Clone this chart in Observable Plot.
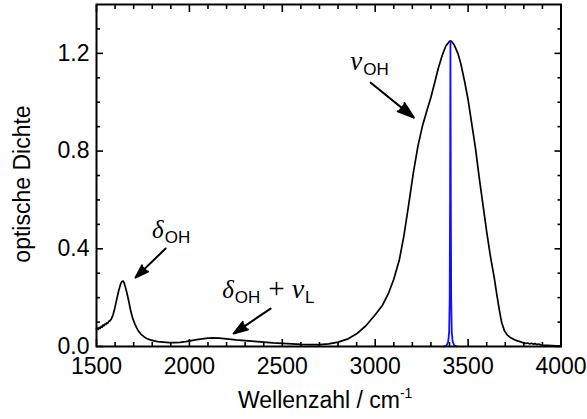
<!DOCTYPE html>
<html><head><meta charset="utf-8">
<script src="https://cdn.jsdelivr.net/npm/d3@7"></script>
<script src="https://cdn.jsdelivr.net/npm/@observablehq/plot@0.6"></script>
<style>body{margin:0;background:#fff} svg{display:block}</style>
</head><body><div id="chart"></div>
<script>
const wavenumber = [1500,1505,1510,1515,1520,1525,1530,1535,1540,1545,1550,1555,1560,1565,1570,1575,1580,1585,1590,1595,1600,1610,1620,1630,1637,1643,1648,1655,1665,1675,1685,1695,1705,1715,1725,1740,1755,1770,1790,1810,1830,1860,1890,1920,1950,1980,2010,2040,2070,2100,2130,2160,2200,2250,2300,2350,2400,2450,2500,2550,2600,2650,2700,2750,2800,2850,2900,2950,3000,3040,3070,3100,3130,3155,3180,3205,3230,3255,3280,3300,3320,3340,3360,3380,3400,3410,3425,3445,3460,3480,3500,3520,3540,3560,3580,3600,3620,3640,3655,3668,3680,3695,3710,3725,3740,3755,3770,3780,3790,3800,3810,3820,3830,3840,3850,3860,3870,3880,3890,3900,3925,3950,3975,4000];
const absorbance = [0.072,0.075,0.07,0.078,0.074,0.082,0.079,0.088,0.084,0.092,0.09,0.097,0.095,0.102,0.104,0.108,0.113,0.122,0.132,0.146,0.162,0.197,0.23,0.256,0.266,0.268,0.262,0.245,0.215,0.18,0.143,0.115,0.095,0.078,0.064,0.05,0.04,0.033,0.027,0.023,0.02,0.018,0.016,0.016,0.017,0.02,0.024,0.028,0.031,0.034,0.035,0.034,0.031,0.027,0.024,0.021,0.018,0.015,0.013,0.011,0.009,0.008,0.008,0.011,0.018,0.03,0.052,0.085,0.13,0.17,0.215,0.275,0.355,0.455,0.58,0.71,0.82,0.905,0.97,1.02,1.08,1.14,1.19,1.23,1.25,1.25,1.235,1.2,1.16,1.09,1.01,0.91,0.81,0.69,0.58,0.47,0.37,0.285,0.21,0.15,0.1,0.065,0.048,0.038,0.032,0.026,0.022,0.02,0.017,0.015,0.013,0.014,0.011,0.013,0.01,0.012,0.008,0.01,0.007,0.006,0.005,0.004,0.003,0.002];
const laserX = [3370,3385,3393,3398,3401,3403,3405,3407,3409,3412,3417,3425,3440];
const laserY = [0,0.005,0.02,0.06,0.2,0.6,1.25,0.6,0.2,0.06,0.02,0.005,0];
const xMajor = [1500,2000,2500,3000,3500,4000];
const xMinor = [1600,1700,1800,1900,2100,2200,2300,2400,2600,2700,2800,2900,3100,3200,3300,3400,3600,3700,3800,3900];
const yMajor = [0,0.4,0.8,1.2];
const yMinor = [0.1,0.2,0.3,0.5,0.6,0.7,0.9,1.0,1.1,1.3];

const spectrum = wavenumber.map((w,i)=>({w, a: absorbance[i]}));
const laser = laserX.map((w,i)=>({w, a: laserY[i]}));

const arrows = [
  {x1:1872, y1:0.401, x2:1710, y2:0.282},
  {x1:2437, y1:0.155, x2:2238, y2:0.053},
  {x1:2976, y1:1.080, x2:3208, y2:0.937}
];

const F = "Liberation Sans, Arial, sans-serif";
const FS = 23;
const tick = {stroke:"black", strokeWidth:1.6, text:null, label:null};
const plot = Plot.plot({
  width:587, height:419,
  marginLeft:96, marginRight:26.5, marginTop:4, marginBottom:73,
  style:{fontFamily:F, background:"white"},
  x:{domain:[1500,4000]},
  y:{domain:[0,1.4]},
  marks:[
    Plot.line(spectrum,{x:"w",y:"a",stroke:"black",strokeWidth:1.7}),
    Plot.line(laser,{x:"w",y:"a",stroke:"#1010ff",strokeWidth:1.8}),
    Plot.axisX({anchor:"bottom",ticks:xMajor,tickSize:-7,...tick}),
    Plot.axisX({anchor:"bottom",ticks:xMinor,tickSize:-4,...tick}),
    Plot.axisX({anchor:"top",ticks:xMajor,tickSize:-7,...tick}),
    Plot.axisX({anchor:"top",ticks:xMinor,tickSize:-4,...tick}),
    Plot.axisY({anchor:"left",ticks:yMajor,tickSize:-7,...tick}),
    Plot.axisY({anchor:"left",ticks:yMinor,tickSize:-4,...tick}),
    Plot.axisY({anchor:"right",ticks:yMajor,tickSize:-7,...tick}),
    Plot.axisY({anchor:"right",ticks:yMinor,tickSize:-4,...tick}),
    Plot.axisX({anchor:"bottom",ticks:xMajor,tickSize:0,tickPadding:11,tickFormat:d=>String(d),fontSize:FS,fill:"black",label:null}),
    Plot.axisY({anchor:"left",ticks:yMajor,tickSize:0,tickPadding:7,tickFormat:d3.format(".1f"),fontSize:FS,fill:"black",label:null}),
    Plot.arrow(arrows,{x1:"x1",y1:"y1",x2:"x2",y2:"y2",stroke:"black",fill:"black",strokeWidth:2,headLength:13,headAngle:36}),
    Plot.frame({stroke:"black",strokeWidth:2})
  ]
});
document.getElementById("chart").appendChild(plot);

const sx = plot.scale("x"), sy = plot.scale("y");
const svg = d3.select(plot);
const SERIF = "Liberation Serif, Times New Roman, serif";
function label(x, y, parts){
  const t = svg.append("text").attr("x", sx.apply(x)).attr("y", sy.apply(y))
    .attr("fill","black").attr("text-anchor","start");
  parts.forEach(p=>{
    t.append("tspan").attr("font-family",p.f).attr("font-style",p.i?"italic":"normal")
     .attr("font-size",p.s).attr("dy",p.dy||0).attr("dx",p.dx||0).text(p.t);
  });
}
label(1802, 0.442, [{t:"δ",f:SERIF,i:true,s:25},{t:"OH",f:F,s:17,dy:5,dx:1}]);
label(2179, 0.196, [{t:"δ",f:SERIF,i:true,s:25},{t:"OH",f:F,s:17,dy:5,dx:1},{t:"+",f:SERIF,s:29,dy:-5,dx:8},{t:"ν",f:SERIF,i:true,s:28,dx:7},{t:"L",f:F,s:17,dy:5,dx:1}]);
label(2869, 1.129, [{t:"ν",f:SERIF,i:true,s:27},{t:"OH",f:F,s:17,dy:5,dx:1}]);

// axis titles
svg.append("text").attr("x", 238).attr("y", 408).attr("text-anchor","start")
  .attr("font-family",F).attr("font-size",FS).attr("fill","black")
  .call(t=>{t.append("tspan").text("Wellenzahl / cm"); t.append("tspan").attr("font-size",14).attr("dy",-10).text("-1");});
svg.append("text").attr("transform","translate(30,184) rotate(-90)").attr("text-anchor","middle")
  .attr("font-family",F).attr("font-size",FS).attr("fill","black").text("optische Dichte");
</script></body></html>
